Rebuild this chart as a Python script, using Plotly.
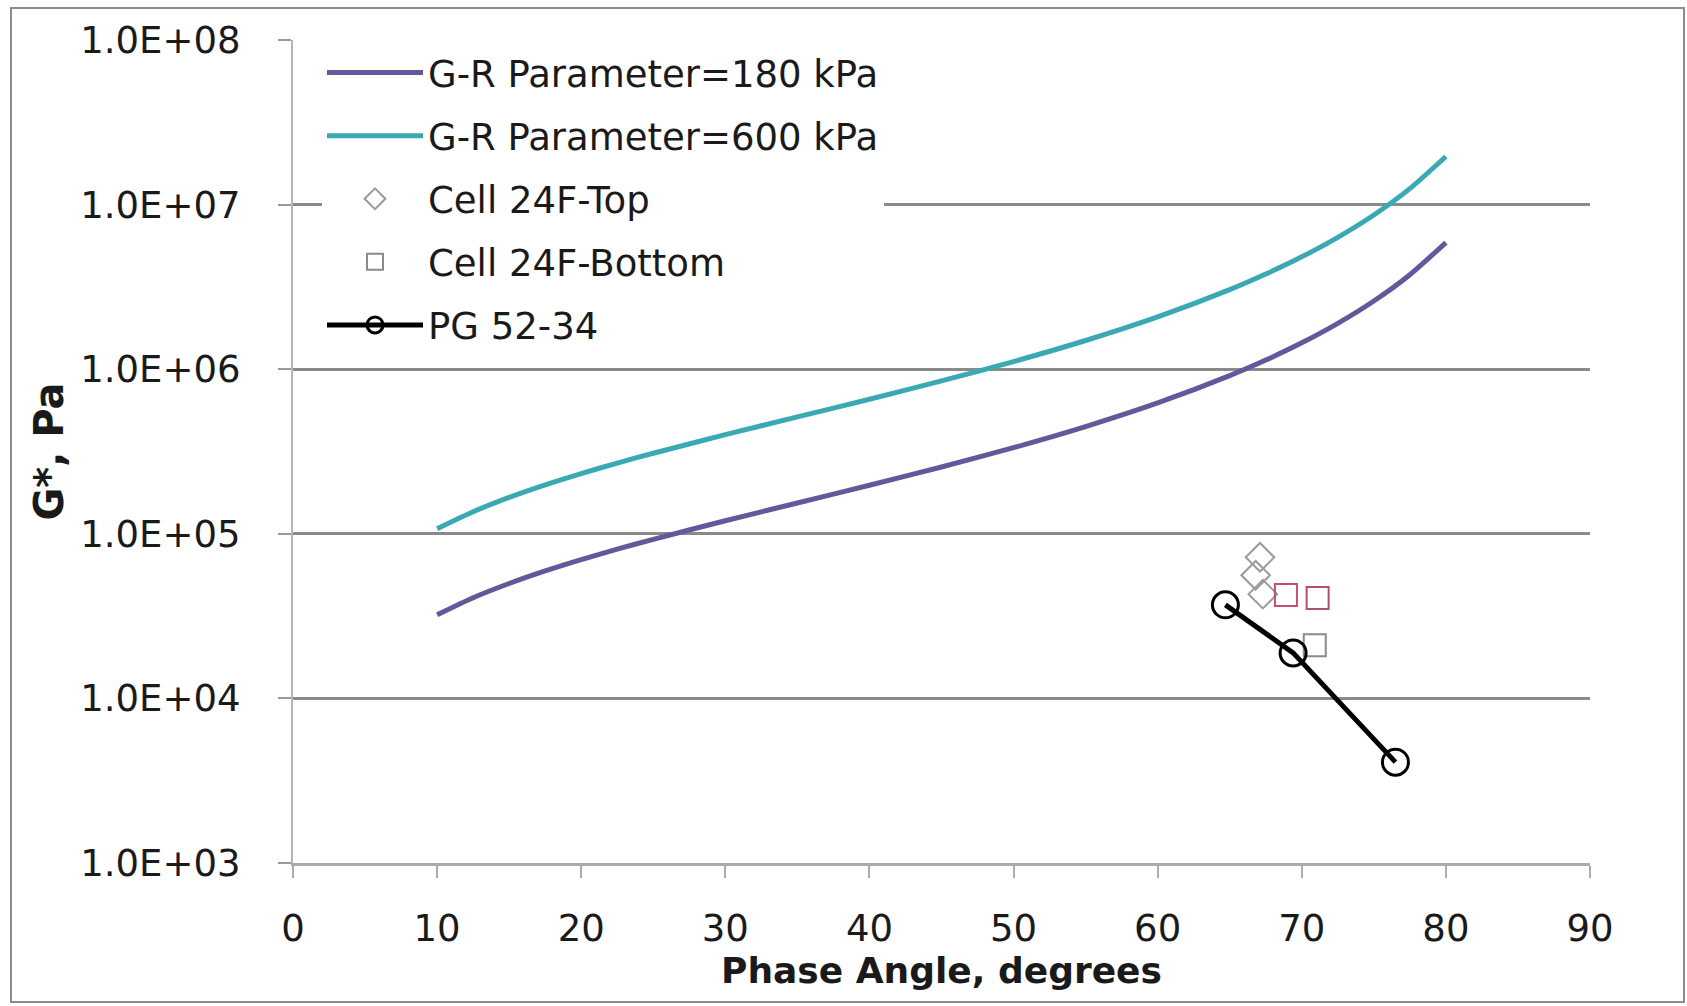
import plotly.graph_objects as go

# ---- data ----
phase_curve = [10, 12.5, 15, 17.5, 20, 22.5, 25, 30, 35, 40, 45, 50, 55, 60, 65, 67.5, 70, 72.5, 75, 77.5, 80]
gr_180 = [32200, 40900, 49900, 59500, 69700, 80700, 92600, 120000, 153900, 197200, 254600, 333700,
          448200, 623500, 913400, 1135900, 1445700, 1898500, 2595000, 3751000, 5879000]
gr_600 = [107400, 136200, 166400, 198400, 232400, 269000, 308700, 400000, 512900, 657200, 848500,
          1112400, 1493900, 2078500, 3044700, 3786400, 4819000, 6328400, 8651000, 12503000, 19596000]

top_phase = [67.1, 66.8, 67.3]
top_g = [72000, 56000, 43000]

bottom_phase = [70.9, 68.9, 71.1]
bottom_g = [21000, 42500, 40700]

pg_phase = [64.7, 69.4, 76.5]
pg_g = [37000, 18900, 4100]

y_tickvals = [1e3, 1e4, 1e5, 1e6, 1e7, 1e8]
y_ticktext = ["1.0E+03", "1.0E+04", "1.0E+05", "1.0E+06", "1.0E+07", "1.0E+08"]
x_tickvals = [0, 10, 20, 30, 40, 50, 60, 70, 80, 90]

names = ["G-R Parameter=180 kPa", "G-R Parameter=600 kPa", "Cell 24F-Top",
         "Cell 24F-Bottom", "PG 52-34"]

FONT = "DejaVu Sans"
W, H = 1687, 1006
ML, MR, MT, MB = 293, 97, 40, 143

fig = go.Figure()
fig.add_trace(go.Scatter(x=phase_curve, y=gr_180, mode="lines", name=names[0],
                         line=dict(color="#66579a", width=5, shape="spline", smoothing=0.6),
                         legendgroup="a"))
fig.add_trace(go.Scatter(x=phase_curve, y=gr_600, mode="lines", name=names[1],
                         line=dict(color="#3aa9b3", width=5, shape="spline", smoothing=0.6),
                         legendgroup="b"))
fig.add_trace(go.Scatter(x=top_phase, y=top_g, mode="markers", name=names[2],
                         marker=dict(symbol="diamond-open", size=22, color="#9a9a9a",
                                     line=dict(width=2, color="#9a9a9a")),
                         legendgroup="c"))
fig.add_trace(go.Scatter(x=bottom_phase, y=bottom_g, mode="markers", name=names[3],
                         marker=dict(symbol="square-open", size=22,
                                     color=["#8a8a8a", "#c0506e", "#b05070"],
                                     line=dict(width=2, color=["#8a8a8a", "#c0506e", "#b05070"])),
                         legendgroup="d"))
fig.add_trace(go.Scatter(x=pg_phase, y=pg_g, mode="lines+markers", name=names[4],
                         line=dict(color="#000000", width=5),
                         marker=dict(symbol="circle-open", size=26, color="#000000",
                                     line=dict(width=3, color="#000000")),
                         legendgroup="e"))

pw = W - ML - MR
ph = H - MT - MB
def px_x(p):
    return (p - ML) / pw
def px_y(p):
    return (H - MB - p) / ph

fig.update_layout(
    width=W, height=H,
    margin=dict(l=ML, r=MR, t=MT, b=MB),
    paper_bgcolor="white", plot_bgcolor="white",
    font=dict(family=FONT, size=36, color="#1a1a1a"),
    showlegend=True,
    legend=dict(x=px_x(322), y=px_y(42), xanchor="left", yanchor="top",
                bgcolor="white", borderwidth=0, font=dict(size=37, family=FONT),
                tracegroupgap=12, itemwidth=96, traceorder="grouped"),
    xaxis=dict(range=[0, 90], tickvals=x_tickvals, showgrid=False, zeroline=False,
               showline=True, linecolor="#ababab", linewidth=3,
               ticks="outside", ticklen=12, tickwidth=2, tickcolor="#ababab",
               ticklabelstandoff=19, tickfont=dict(size=37, family=FONT),
               title=dict(text="<b>Phase Angle, degrees</b>", font=dict(size=36, family=FONT),
                          standoff=8)),
    yaxis=dict(type="log", range=[3, 8], tickvals=y_tickvals, ticktext=y_ticktext,
               showgrid=True, gridcolor="#8a8a8a", gridwidth=3, zeroline=False,
               showline=True, linecolor="#b5b5b5", linewidth=2,
               ticks="outside", ticklen=13, tickwidth=2, tickcolor="#9a9a9a",
               ticklabelstandoff=30, tickfont=dict(size=37, family=FONT),
               title=dict(text="<b>G*, Pa</b>", font=dict(size=40, family=FONT),
                          standoff=4)),
    shapes=[dict(type="rect", xref="paper", yref="paper",
                 x0=px_x(11), x1=px_x(1684), y0=px_y(1002), y1=px_y(8),
                 line=dict(color="#8c8c8c", width=2), layer="below")],
)

fig.write_html("out.html")
